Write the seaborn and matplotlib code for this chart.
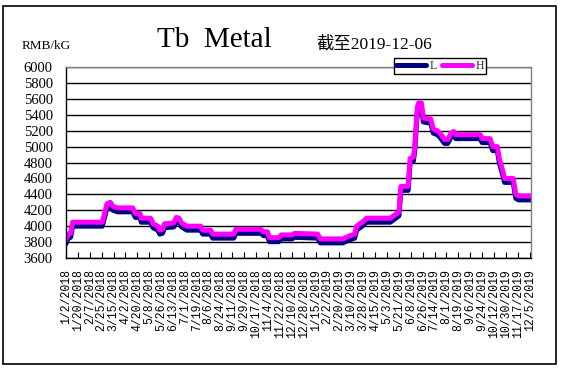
import matplotlib
matplotlib.use('Agg')
import matplotlib.pyplot as plt
import seaborn as sns
import pandas as pd
from matplotlib.lines import Line2D
from matplotlib.patches import Rectangle

dates = ['2018-01-02', '2018-01-05', '2018-01-09', '2018-01-12', '2018-02-26', '2018-03-05',
         '2018-03-10', '2018-03-14', '2018-03-21', '2018-04-13', '2018-04-17', '2018-04-24',
         '2018-04-26', '2018-05-10', '2018-05-14', '2018-05-21', '2018-05-24', '2018-05-28',
         '2018-05-31', '2018-06-14', '2018-06-18', '2018-06-22', '2018-06-26', '2018-07-04',
         '2018-07-25', '2018-07-28', '2018-08-09', '2018-08-12', '2018-09-13', '2018-09-16',
         '2018-10-24', '2018-10-28', '2018-11-03', '2018-11-06', '2018-11-20', '2018-11-24',
         '2018-12-10', '2018-12-14', '2019-01-18', '2019-01-22', '2019-02-25', '2019-03-08',
         '2019-03-15', '2019-03-18', '2019-03-28', '2019-04-02', '2019-05-08', '2019-05-13',
         '2019-05-21', '2019-05-24', '2019-06-04', '2019-06-07', '2019-06-12', '2019-06-14',
         '2019-06-16', '2019-06-18', '2019-06-20', '2019-06-24', '2019-06-27', '2019-07-03',
         '2019-07-08', '2019-07-12', '2019-07-18', '2019-07-22', '2019-07-29', '2019-08-03',
         '2019-08-08', '2019-08-12', '2019-08-15', '2019-09-21', '2019-09-24', '2019-10-06',
         '2019-10-10', '2019-10-17', '2019-10-20', '2019-10-25', '2019-10-28', '2019-11-10',
         '2019-11-14', '2019-11-18', '2019-12-06']

H = [3830, 3900, 3910, 4050, 4050, 4280, 4300, 4250, 4230, 4230, 4160, 4160,
     4100, 4100, 4030, 4000, 3950, 3960, 4030, 4040, 4110, 4100, 4040, 4000,
     4000, 3950, 3950, 3900, 3900, 3960, 3960, 3930, 3930, 3855, 3855, 3890,
     3890, 3910, 3900, 3840, 3840, 3880, 3900, 4000, 4060, 4100, 4100, 4130,
     4180, 4500, 4500, 4850, 4870, 5000, 5250, 5500, 5550, 5550, 5360, 5350,
     5350, 5220, 5200, 5170, 5090, 5090, 5170, 5190, 5150, 5150, 5100, 5100,
     5000, 5000, 4850, 4700, 4600, 4600, 4400, 4380, 4380]

L = [3780, 3850, 3860, 4000, 4000, 4230, 4250, 4200, 4180, 4180, 4110, 4110,
     4050, 4050, 3980, 3950, 3900, 3910, 3980, 3990, 4060, 4050, 3990, 3950,
     3950, 3900, 3900, 3850, 3850, 3910, 3910, 3880, 3880, 3805, 3805, 3840,
     3840, 3860, 3850, 3790, 3790, 3830, 3850, 3950, 4010, 4050, 4050, 4080,
     4130, 4450, 4450, 4800, 4820, 4950, 5200, 5450, 5500, 5500, 5310, 5300,
     5300, 5170, 5150, 5120, 5040, 5040, 5120, 5140, 5100, 5100, 5050, 5050,
     4950, 4950, 4800, 4650, 4550, 4550, 4350, 4330, 4330]

y_ticks = list(range(3600, 6001, 200))
series_colors = {'L': '#000080', 'H': '#FF00FF'}

df = pd.DataFrame({'date': pd.to_datetime(dates), 'L': L, 'H': H})
long = df.melt('date', var_name='series', value_name='price')

sns.set_theme(style='white')
plt.rcParams['font.family'] = ['Liberation Serif', 'Noto Sans CJK SC']

fig = plt.figure(figsize=(5.65, 3.74), dpi=100)
ax = fig.add_axes([66/565, 1-258/374, 465/565, 191/374])

sns.lineplot(data=long, x='date', y='price', hue='series', hue_order=['L', 'H'],
             palette=series_colors, linewidth=3.6, ax=ax, legend=False,
             estimator=None, sort=False)

ax.set_ylim(3600, 6000)
ax.set_yticks(y_ticks)
ax.set_yticklabels([str(v) for v in y_ticks])
ax.set_xlim(pd.Timestamp('2018-01-02'), pd.Timestamp('2019-12-07'))
tick_dates = pd.date_range('2018-01-02', '2019-12-05', freq='18D')
tick_labels = [f"{d.month}/{d.day}/{d.year}" for d in tick_dates]
ax.set_xticks(tick_dates)
ax.set_xticklabels(tick_labels, rotation=90, fontfamily='Liberation Mono', fontsize=8.3)
ax.set_xlabel('')
ax.set_ylabel('')

ax.yaxis.grid(True, color='black', linewidth=1)
ax.xaxis.grid(False)
ax.set_axisbelow(True)
ax.tick_params(axis='x', direction='in', length=4, width=0.8, color='black',
               pad=8, bottom=True, labelcolor='black')
ax.tick_params(axis='y', length=0, pad=9.5, labelsize=10.5, labelcolor='black')

for s in ['left', 'bottom']:
    ax.spines[s].set_color('black')
    ax.spines[s].set_linewidth(1)
for s in ['top', 'right']:
    ax.spines[s].set_color('#808080')
    ax.spines[s].set_linewidth(1)

handles = [Line2D([], [], color=series_colors['L'], lw=3.6),
           Line2D([], [], color=series_colors['H'], lw=3.6)]
leg = fig.legend(handles, ['L', 'H'], ncol=2, loc='center',
                 bbox_to_anchor=(440/565, 1-66/374), frameon=True, fontsize=8.5,
                 handlelength=2.6, handletextpad=0.3, columnspacing=0.4,
                 borderpad=0.15, fancybox=False, edgecolor='black', framealpha=1)
leg.get_frame().set_linewidth(1)

fig.text(214/565, 1-40/374, 'Tb  Metal', ha='center', va='center', fontsize=21,
         family='Liberation Serif', color='black')
fig.text(22/565, 1-46/374, 'RMB/kG', ha='left', va='center', fontsize=9.5, color='black')
fig.text(316/565, 1-44/374, '截至2019-12-06', ha='left', va='center', fontsize=12.5,
         family=['Liberation Serif', 'Noto Sans CJK SC'], color='black')

fig.patches.append(Rectangle((3/565, 1-364/374), 553/565, 358/374,
                             transform=fig.transFigure, fill=False,
                             edgecolor='black', lw=1.2))

fig.savefig('out.png', dpi=100)
